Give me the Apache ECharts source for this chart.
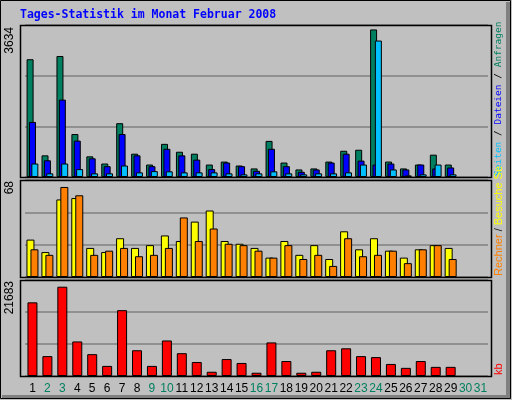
<!DOCTYPE html>
<html><head><meta charset="utf-8">
<script src="https://cdn.jsdelivr.net/npm/echarts@6/dist/echarts.min.js"></script>
<style>html,body{margin:0;padding:0;background:#c0c0c0}#c{width:512px;height:400px}</style>
</head><body><div id="c"></div>
<script>
const days = Array.from({length:31},(_,i)=>String(i+1));
const weekend = ['2','3','9','10','16','17','23','24','30','31'];
const anfragen = [2900,533,2980,1058,509,332,1325,574,307,816,622,574,307,380,283,211,889,356,186,211,380,646,671,3634,380,211,307,550,307,null,null];
const dateien  = [1357,412,1906,896,460,266,1058,533,266,695,533,428,194,356,266,153,695,266,128,186,356,574,404,307,332,186,307,211,235,null,null];
const seiten   = [332,90,332,194,90,90,283,114,145,140,114,114,114,90,65,90,140,90,65,90,90,114,307,3360,186,40,65,307,65,null,null];
const besuche  = [27,18,56,57,21,18,28,21,23,30,26,40,48,26,24,21,14,26,16,23,13,33,20,28,19,14,20,23,21,null,null];
const rechner  = [20,16,65,59,16,19,21,15,16,21,43,26,35,24,23,19,14,23,13,16,8,28,15,16,19,10,20,23,13,null,null];
const kb       = [17134,4625,20773,8036,5080,2350,15315,5990,2350,8264,5307,3260,986,3942,3033,758,7809,3488,758,986,5990,6444,4625,4397,2805,1895,3488,2123,2123,null,null];
const maxLabels = ['3634','68','21683'];
const maxVals = [3634,68,21683];

const chart = echarts.init(document.getElementById('c'));
const frames = [{y:25,h:152},{y:180,h:97},{y:280,h:96}];
const grids = frames.map(f=>({left:25, top:f.y, width:463, height:f.h, show:false}));
const xAxes = [0,1,2].map(i=>({
  type:'category', gridIndex:i, data:days, boundaryGap:true,
  axisLine:{show:false}, axisTick:{show:false}, splitLine:{show:false},
  axisLabel: i===2 ? {show:true, interval:0, margin:7,
    formatter:v=> weekend.includes(v)?'{w|'+v+'}':'{d|'+v+'}',
    rich:{w:{color:'#008060',fontFamily:'Liberation Sans',fontSize:12},d:{color:'#000',fontFamily:'Liberation Sans',fontSize:12}}} : {show:false}
}));
const yAxes = [0,1,2].map(i=>({
  type:'value', gridIndex:i, min:0, max:maxVals[i]*1.03, interval:maxVals[i]*1.03/3,
  axisLabel:{show:false}, axisLine:{show:false}, axisTick:{show:false},
  splitLine:{show:true, lineStyle:{color:'#808080', width:1.5}}
}));
const bs = {borderColor:'#000', borderWidth:1};
function bar(name,data,color,gi,w,gap){
  return {type:'bar',name,data,xAxisIndex:gi,yAxisIndex:gi,barWidth:w,barGap:gap,
    itemStyle:Object.assign({color},bs),animation:false,silent:true};
}
const series = [
  bar('Anfragen',anfragen,'#008060',0,7,'-66%'),
  bar('Dateien',dateien,'#0000ff',0,7,'-66%'),
  bar('Seiten',seiten,'#00c0ff',0,7,'-66%'),
  bar('Besuche',besuche,'#ffff00',1,8,'-50%'),
  bar('Rechner',rechner,'#ff8000',1,8,'-50%'),
  bar('kb',kb,'#ff0000',2,10,'0%')
];
const mono = '9.5px "DejaVu Sans Mono"';
const sans = '11px "Liberation Sans"';
const graphic = [
  {type:'rect', shape:{x:0.5,y:0.5,width:510,height:398}, style:{fill:'none',stroke:'#000',lineWidth:1}, z:-1},
  {type:'rect', shape:{x:506,y:2,width:4,height:396}, style:{fill:'#808080'}, z:-1},
  {type:'rect', shape:{x:2,y:395,width:508,height:3}, style:{fill:'#808080'}, z:-1}
].concat(frames.map(f=>({type:'rect', shape:{x:20.5,y:f.y+0.5,width:471,height:f.h}, style:{fill:'none',stroke:'#000',lineWidth:1.5}, z:10})))
.concat([
  {type:'text', x:20, y:15, style:{text:'Tages-Statistik im Monat Februar 2008', fill:'#0000ff', font:'bold 11.5px "DejaVu Sans Mono"', textVerticalAlign:'middle'}},
  {type:'text', x:10, y:27, rotation:Math.PI/2, style:{text:maxLabels[0],fill:'#000',textAlign:'right',textVerticalAlign:'middle',font:'12px "Liberation Sans"'}},
  {type:'text', x:10, y:181, rotation:Math.PI/2, style:{text:maxLabels[1],fill:'#000',textAlign:'right',textVerticalAlign:'middle',font:'12px "Liberation Sans"'}},
  {type:'text', x:10, y:281, rotation:Math.PI/2, style:{text:maxLabels[2],fill:'#000',textAlign:'right',textVerticalAlign:'middle',font:'12px "Liberation Sans"'}},
  {type:'text', x:499, y:176, rotation:Math.PI/2, style:{text:'{c|Seiten} / {b|Dateien} / {g|Anfragen}',textAlign:'left',textVerticalAlign:'middle',font:mono,fill:'#000',
    rich:{c:{fill:'#00c0ff',font:mono},b:{fill:'#0000ff',font:mono},g:{fill:'#008060',font:mono}}}},
  {type:'text', x:499, y:276, rotation:Math.PI/2, style:{text:'{o|Rechner} / {y|Besuche Se}',textAlign:'left',textVerticalAlign:'middle',font:sans,fill:'#000',
    rich:{o:{fill:'#ff8000',font:sans},y:{fill:'#ffff00',font:sans}}}},
  {type:'text', x:499, y:375, rotation:Math.PI/2, style:{text:'kb',textAlign:'left',textVerticalAlign:'middle',font:sans,fill:'#ff0000'}}
]);
chart.setOption({backgroundColor:'#c0c0c0', animation:false, grid:grids, xAxis:xAxes, yAxis:yAxes, series, graphic});
</script></body></html>
